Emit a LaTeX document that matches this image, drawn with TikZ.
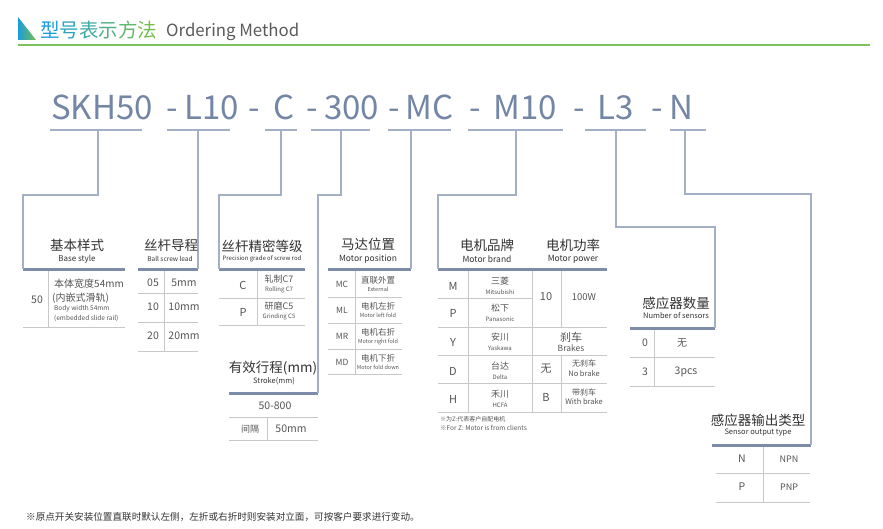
\documentclass[tikz,border=0pt]{standalone}
\usepackage{fontspec}
\setmainfont{Noto Sans CJK SC}
\usetikzlibrary{positioning,calc}
\definecolor{codeblue}{HTML}{7386A5}
\definecolor{leadc}{HTML}{A3AFC4}
\definecolor{barc}{HTML}{7C8CA9}
\definecolor{gridc}{HTML}{C8C8C8}
\definecolor{titletxt}{HTML}{333333}
\definecolor{celltxt}{HTML}{555555}
\definecolor{tblue}{HTML}{1B9DDB}
\definecolor{tgreen}{HTML}{74BE4C}
\definecolor{rulegreen}{HTML}{7DC35B}
\definecolor{ordergray}{HTML}{5A5A5A}
\tikzset{
  fsz/.style={font=\fontsize{#1}{#1}\selectfont},
  code/.style={anchor=base west, inner sep=0pt, text=codeblue, fsz=33},
  codedash/.style={anchor=base, inner sep=0pt, text=codeblue, fsz=33},
  lead/.style={draw=leadc, line width=1.1pt},
  headbar/.style={draw=barc, line width=3pt},
  grid/.style={draw=gridc, line width=0.9pt},
  cn/.style={inner sep=0pt, text=titletxt, fsz=13.5},
  en/.style={inner sep=0pt, text=titletxt, fsz=#1},
  en/.default=8,
  cell/.style={inner sep=0pt, text=celltxt, fsz=#1},
  cell/.default=10.5,
}
\begin{document}
\begin{tikzpicture}[x=1pt,y=-1pt]
\useasboundingbox[fill=white] (0,0) rectangle (883,529);
% heading
\shade[left color=tblue, right color=tgreen] (18,17) -- (18,40) -- (36,40) -- cycle;
\node[anchor=base west, inner sep=0pt, fsz=19.5] (title) at (40,38)
  {\textcolor{tblue}{型}\textcolor{tblue!80!tgreen}{号}\textcolor{tblue!60!tgreen}{表}\textcolor{tblue!40!tgreen}{示}\textcolor{tblue!20!tgreen}{方}\textcolor{tgreen}{法}};
\node[anchor=base west, inner sep=0pt, fsz=16.8, text=ordergray] (order) at (166,37) {Ordering Method};
\draw[rulegreen, line width=2pt] (18,45.5) -- (870,45.5);

% model code
\node[code] (skh) at (51,120) {SKH50};
\node[codedash] (dsh1) at (172.5,120) {-};
\node[code] (ldn) at (184,120) {L10};
\node[codedash] (dsh2) at (254,120) {-};
\node[code] (prc) at (273,120) {C};
\node[codedash] (dsh3) at (312,120) {-};
\node[code] (strk) at (324,120) {300};
\node[codedash] (dsh4) at (394,120) {-};
\node[code] (mpos) at (405,120) {MC};
\node[codedash] (dsh5) at (475,120) {-};
\node[code] (mtr) at (493,120) {M10};
\node[codedash] (dsh6) at (579,120) {-};
\node[code] (snum) at (597,120) {L3};
\node[codedash] (dsh7) at (657,120) {-};
\node[code] (styp) at (669,120) {N};
\foreach \a/\b/\m [count=\i] in {50/142/98, 167/230/198, 265/297/281, 311/370/341,
    388/451/411, 468/563/516, 585/646/616, 670/706/685} {
  \draw[lead] (\a,130) -- (\b,130);
  \coordinate (u\i) at (\m,130);
}

% header bars
\coordinate (b1) at (23,269);  \coordinate (b2) at (198,269);
\coordinate (b3) at (219,269); \coordinate (b4) at (318,393);
\coordinate (b5) at (411,269); \coordinate (b6) at (438,269);
\coordinate (b7) at (715,328); \coordinate (b8) at (811,445);
\draw[headbar] (23,269.5) -- (125,269.5);
\draw[headbar] (138,269.5) -- (198,269.5);
\draw[headbar] (219,269.5) -- (305,269.5);
\draw[headbar] (229,393.5) -- (318,393.5);
\draw[headbar] (328,269.5) -- (411,269.5);
\draw[headbar] (438,269.5) -- (607,269.5);
\draw[headbar] (630,328.5) -- (715,328.5);
\draw[headbar] (712,445.5) -- (811,445.5);

% leaders
\draw[lead] (u1) |- (23,195) -- (b1);
\draw[lead] (u2) -- (b2);
\draw[lead] (u3) |- (219,195) -- (b3);
\draw[lead] (u4) |- (318,195) -- (b4);
\draw[lead] (u5) -- (b5);
\draw[lead] (u6) |- (438,195) -- (b6);
\draw[lead] (u7) |- (715,227) -- (b7);
\draw[lead] (u8) |- (811,194) -- (b8);

% base style
\node[cn] (bsz) at (77,245) {基本样式};
\node[en] (bse) at (77,259) {Base style};
\draw[grid] (48,271) -- (48,327);
\draw[grid] (23,327) -- (125,327);
\node[cell] (bs50) at (37,300) {50};
\node[cell=10, anchor=west] (bsd1) at (54,284) {本体宽度54mm};
\node[cell=10, anchor=west] (bsd2) at (52,298) {(内嵌式滑轨)};
\node[en=6.5, anchor=west, text=celltxt] (bsd3) at (54,308.5) {Body width 54mm};
\node[en=6.5, anchor=west, text=celltxt] (bsd4) at (54,318) {(embedded slide rail)};

% ball screw lead
\node[cn] (ldz) at (171,245) {丝杆导程};
\node[en=6.5] (lde) at (170,259) {Ball screw lead};
\draw[grid] (164,271) -- (164,351);
\foreach \y in {293,322,351} \draw[grid] (138,\y) -- (198,\y);
\foreach \c/\v/\y [count=\i] in {05/5mm/283, 10/10mm/307, 20/20mm/336} {
  \node[cell] (ldc\i) at (153,\y) {\c};
  \node[cell] (ldv\i) at (184,\y) {\v};
}

% precision grade
\node[cn] (prz) at (262,246) {丝杆精密等级};
\node[en=6] (pre) at (262,259) {Precision grade of screw rod};
\draw[grid] (257,271) -- (257,325);
\foreach \y in {298,325} \draw[grid] (219,\y) -- (305,\y);
\node[cell=11] (prc1) at (243,285) {C};
\node[cell=9] (prz1) at (279,279.5) {轧制C7};
\node[en=6, text=celltxt] (pre1) at (279,290) {Rolling C7};
\node[cell=11] (prc2) at (243,312) {P};
\node[cell=9] (prz2) at (279,306.5) {研磨C5};
\node[en=6, text=celltxt] (pre2) at (279,317) {Grinding C5};

% stroke
\node[cn] (stz) at (273,368) {有效行程(mm)};
\node[en=7.5] (ste) at (274,381) {Stroke(mm)};
\node[cell] (strg) at (275,406) {50-800};
\foreach \y in {417,440} \draw[grid] (229,\y) -- (318,\y);
\draw[grid] (267,417) -- (267,440);
\node[cell=9] (stgz) at (250,429) {间隔};
\node[cell] (stgv) at (291,429) {50mm};

% motor position
\node[cn] (mpz) at (368,244) {马达位置};
\node[en=8.5] (mpe) at (368,259) {Motor position};
\draw[grid] (355,271) -- (355,374);
\foreach \y in {297,323,349,374} \draw[grid] (328,\y) -- (402,\y);
\foreach \c/\z/\e [count=\i] in {MC/直联外置/External, ML/电机左折/Motor left fold,
    MR/电机右折/Motor right fold, MD/电机下折/Motor fold down} {
  \node[cell=8.5] (mpc\i) at (342,258+26*\i) {\c};
  \node[cell=8.5] (mpd\i) at (378,254+26*\i) {\z};
  \node[en=5.5, text=celltxt] (mpn\i) at (378,263.5+26*\i) {\e};
}

% motor brand / power
\node[cn] (mbz) at (487,245) {电机品牌};
\node[en=8.5] (mbe) at (487,259) {Motor brand};
\node[cn] (mwz) at (573,245) {电机功率};
\node[en=8.5] (mwe) at (573,259) {Motor power};
\draw[grid] (468,271) -- (468,412);
\draw[grid] (532,271) -- (532,412);
\draw[grid] (561,271) -- (561,327);
\draw[grid] (561,355) -- (561,412);
\draw[grid] (438,298) -- (532,298);
\foreach \y in {327,355,383,412} \draw[grid] (438,\y) -- (607,\y);
\foreach \c/\z/\e/\y [count=\i] in {M/三菱/Mitsubishi/286, P/松下/Panasonic/313,
    Y/安川/Yaskawa/342, D/台达/Delta/371, H/禾川/HCFA/399} {
  \node[cell=11] (mbc\i) at (453,\y) {\c};
  \node[cell=9] (mbd\i) at (500,\y-5) {\z};
  \node[en=6, text=celltxt] (mbn\i) at (500,\y+6) {\e};
}
\node[cell=11] (mw10) at (546,297) {10};
\node[cell=9.5] (mwv) at (584,297) {100W};
\node[cell=11] (brz) at (571,337) {刹车};
\node[en=8.5, text=celltxt] (bre) at (571,348.5) {Brakes};
\node[cell=11] (brc1) at (546,369) {无};
\node[cell=8] (brz1) at (584,363.5) {无刹车};
\node[en=7.5, text=celltxt] (bre1) at (584,373.5) {No brake};
\node[cell=11] (brc2) at (546,397) {B};
\node[cell=8] (brz2) at (584,392.5) {带刹车};
\node[en=7.5, text=celltxt] (bre2) at (584,402) {With brake};
\node[en=6, anchor=west, text=celltxt] (mnz) at (440,419) {※为Z:代表客户自配电机};
\node[en=6.5, anchor=west, text=celltxt] (mne) at (440,428) {※For Z: Motor is from clients};

% number of sensors
\node[cn] (snz) at (676,303) {感应器数量};
\node[en=7.5] (sne) at (676,316) {Number of sensors};
\draw[grid] (654,330) -- (654,386);
\foreach \y in {357,386} \draw[grid] (630,\y) -- (715,\y);
\node[cell] (snc1) at (645,343) {0};
\node[cell=10] (snv1) at (682,343) {无};
\node[cell] (snc2) at (645,372) {3};
\node[cell] (snv2) at (686,372) {3pcs};

% sensor output type
\node[cn] (soz) at (758,420) {感应器输出类型};
\node[en=7.5] (soe) at (758,433) {Sensor output type};
\draw[grid] (763,447) -- (763,502);
\foreach \y in {473,502} \draw[grid] (716,\y) -- (810,\y);
\node[cell] (soc1) at (742,459) {N};
\node[cell=9] (sov1) at (789,459) {NPN};
\node[cell] (soc2) at (742,487) {P};
\node[cell=9] (sov2) at (789,487) {PNP};

% footnote
\node[cell=9.6, anchor=west, text=titletxt] (foot) at (26,517) {※原点开关安装位置直联时默认左侧，左折或右折时则安装对立面，可按客户要求进行变动。};
\end{tikzpicture}
\end{document}
